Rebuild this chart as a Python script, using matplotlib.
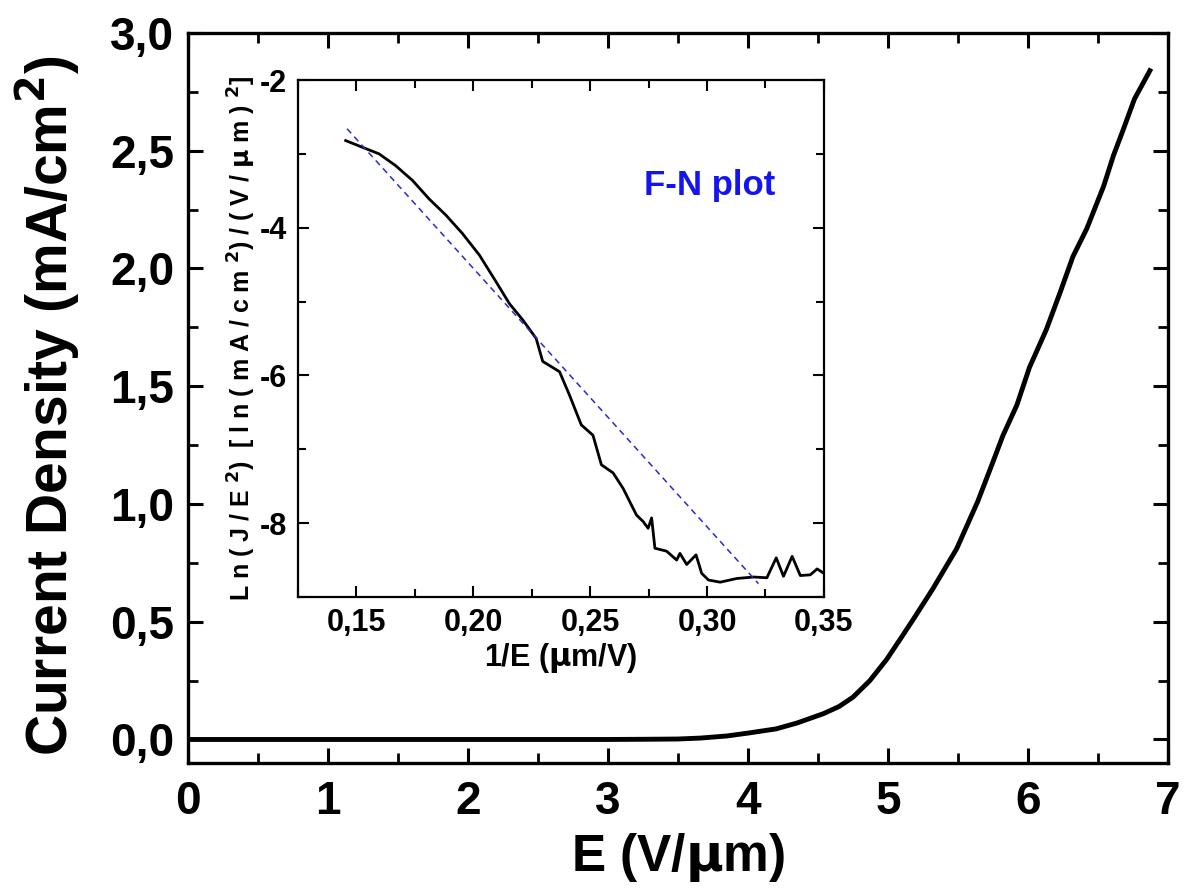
import matplotlib.pyplot as plt
from matplotlib.ticker import MultipleLocator, FuncFormatter

# main J-E curve
E = [0.0, 0.5, 1.0, 1.5, 2.0, 2.5, 3.0, 3.3, 3.5, 3.66, 3.85, 4.01, 4.2, 4.35,
     4.54, 4.65, 4.75, 4.87, 4.99, 5.08, 5.18, 5.32, 5.49, 5.64, 5.75, 5.82,
     5.92, 6.01, 6.13, 6.23, 6.32, 6.42, 6.54, 6.61, 6.68, 6.76, 6.87]
J = [0.0, 0.0, 0.0, 0.0, 0.0, 0.0, 0.0, 0.001, 0.002, 0.006, 0.015, 0.028,
     0.045, 0.07, 0.11, 0.14, 0.18, 0.25, 0.34, 0.42, 0.51, 0.64, 0.81, 1.01,
     1.18, 1.29, 1.42, 1.58, 1.74, 1.90, 2.05, 2.17, 2.35, 2.48, 2.59, 2.72,
     2.84]

# F-N plot data
inv_E = [0.1454, 0.1525, 0.1597, 0.1668, 0.174, 0.1811, 0.1883, 0.1954, 0.2026,
         0.2097, 0.2155, 0.2212, 0.2269, 0.2297, 0.2369, 0.2412, 0.2462, 0.2512,
         0.2548, 0.2598, 0.2641, 0.2698, 0.2727, 0.2748, 0.2763, 0.2777, 0.2827,
         0.2870, 0.2884, 0.2913, 0.2953, 0.2977, 0.3006, 0.3056, 0.3127, 0.3199,
         0.3256, 0.3296, 0.3327, 0.3364, 0.3399, 0.3442, 0.3471, 0.350]
ln_JE2 = [-2.82, -2.91, -3.00, -3.16, -3.36, -3.61, -3.83, -4.08, -4.37,
          -4.73, -5.03, -5.25, -5.50, -5.81, -5.95, -6.27, -6.67, -6.81,
          -7.21, -7.32, -7.53, -7.89, -7.98, -8.07, -7.93, -8.34, -8.38,
          -8.50, -8.41, -8.56, -8.43, -8.68, -8.77, -8.80, -8.75, -8.73,
          -8.74, -8.47, -8.72, -8.45, -8.71, -8.70, -8.62, -8.68]

# linear fit line
fit_x = [0.146, 0.322]
fit_y = [-2.66, -8.82]

bold = ['Liberation Sans', 'DejaVu Sans']

comma = lambda fmt: FuncFormatter(lambda v, p: (fmt % v).replace('.', ','))

fig = plt.figure(figsize=(12, 8.89), dpi=100)
ax = fig.add_axes([0.1567, 0.1417, 0.8167, 0.8212])
ax.plot(E, J, color='black', lw=3.5)
ax.set_xlim(0, 7)
ax.set_ylim(-0.1, 3.0)
ax.xaxis.set_major_locator(MultipleLocator(1))
ax.xaxis.set_minor_locator(MultipleLocator(0.5))
ax.yaxis.set_major_locator(MultipleLocator(0.5))
ax.yaxis.set_minor_locator(MultipleLocator(0.25))
ax.yaxis.set_major_formatter(comma('%.1f'))
ax.tick_params(which='both', direction='in', top=True, right=True)
ax.tick_params(which='major', length=11, width=2.2)
ax.tick_params(which='minor', length=7, width=2)
ax.tick_params(axis='x', which='major', pad=12)
ax.tick_params(axis='y', which='major', pad=10)
for s in ax.spines.values():
    s.set_linewidth(2.4)
for lab in ax.get_xticklabels() + ax.get_yticklabels():
    lab.set_fontfamily(bold)
    lab.set_fontweight('bold')
    lab.set_fontsize(33)
ax.set_xlabel('E (V/$\\mathbf{\\mu}$m)', fontsize=37, fontweight='bold', family=bold)
ax.set_ylabel('Current Density (mA/cm$^\\mathbf{2}$)', fontsize=41, fontweight='bold', family=bold)
ax.xaxis.set_label_coords(0.5, -0.093)
ax.yaxis.set_label_coords(-0.108, 0.49)

ins = fig.add_axes([0.2483, 0.3285, 0.4383, 0.5815])
ins.plot(inv_E, ln_JE2, color='black', lw=2)
ins.plot(fit_x, fit_y, color='#2a2ad0', lw=1.1, ls=(0, (4, 3)))
ins.set_xlim(0.125, 0.35)
ins.set_ylim(-9, -2)
ins.xaxis.set_major_locator(MultipleLocator(0.05))
ins.xaxis.set_minor_locator(MultipleLocator(0.025))
ins.yaxis.set_major_locator(MultipleLocator(2))
ins.yaxis.set_minor_locator(MultipleLocator(1))
ins.xaxis.set_major_formatter(comma('%.2f'))
ins.yaxis.set_major_formatter(FuncFormatter(lambda v, p: '%d' % v))
ins.tick_params(which='both', direction='in', top=True, right=True, width=1.5)
ins.tick_params(which='major', length=8, pad=8)
ins.tick_params(which='minor', length=6)
for s in ins.spines.values():
    s.set_linewidth(1.6)
for lab in ins.get_xticklabels() + ins.get_yticklabels():
    lab.set_fontfamily(bold)
    lab.set_fontweight('bold')
    lab.set_fontsize(22)
ins.set_xlabel('1/E ($\\mathbf{\\mu}$m/V)', fontsize=22, fontweight='bold', family=bold, labelpad=2)
ins.set_ylabel('L n ( J / E $^\\mathbf{2}$)  [ l n ( m A / c m $^\\mathbf{2}$) / ( V / $\\mathbf{\\mu}$ m ) $^\\mathbf{2}$]',
               fontsize=18, fontweight='bold', family=bold, labelpad=1)
ins.text(0.301, -3.43, 'F-N plot', color='#1414f0', fontsize=25, fontweight='bold',
         family=bold, ha='center', va='center')

fig.savefig('out.png', dpi=100)
